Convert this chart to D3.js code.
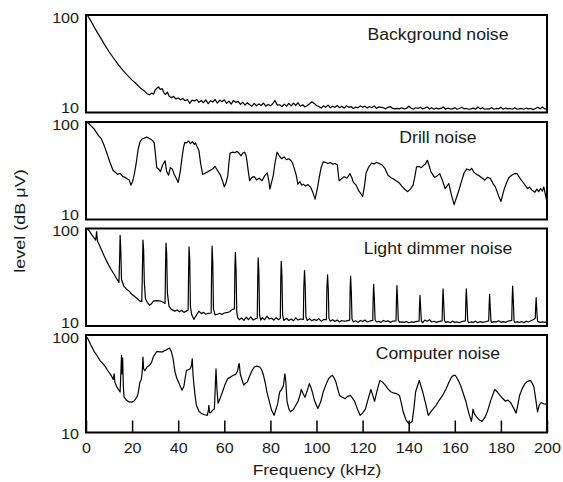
<!DOCTYPE html>
<html><head><meta charset="utf-8">
<script src="https://cdn.jsdelivr.net/npm/d3@7"></script>
<style>
body{margin:0;background:#fff;}
text{font-family:"Liberation Sans",Arial,Helvetica,sans-serif;fill:#1a1a1a;}
</style>
</head><body>
<svg id="c" width="563" height="482"></svg>
<script>
const panelTitles = ["Background noise", "Drill noise", "Light dimmer noise", "Computer noise"];
const xTicks = [0,20,40,60,80,100,120,140,160,180,200];
const yTicks = [10,100];
const xTitle = "Frequency (kHz)";
const yTitle = "level (dB \u03BCV)";

// [frequency kHz, level]
const background = [[0.5,100],[2,88],[4,72],[6,60],[8,50],[10,42],[12,36],[14,31],[16,27],[18,24],[20,21.5],[22,19.5],[24,17.5],[25.5,16.5],[26.5,15.6],[27.5,15.2],[28.5,15.8],[29.3,15.4],[30,17],[30.8,17.8],[31.5,18.3],[32.2,17.2],[33,17.6],[33.8,16],[34.5,15.3],[35.3,16.2],[36,14.8],[37,14.2],[38,14.6],[39,13.8],[40,14.1],[41,13.5],[42,13.9],[43,13.2],[44,13.6],[45,12.4],[46,13.4],[47,13.1],[48,13.6],[49,12.7],[50,13.3],[51,12.6],[52,13.5],[53,12.3],[54,13.2],[55,12.8],[56,13.6],[57,12.5],[58,13.4],[59,12.9],[60,13.5],[61,12.4],[62,13.1],[63,12.2],[64,13.3],[65,12.7],[66,13.0],[67,12.1],[68,12.8],[69,11.9],[70,12.6],[71,12.0],[72,11.6],[73,12.4],[74,11.7],[75,12.2],[76,11.8],[77,12.5],[78,11.6],[79,12.1],[80,11.7],[81,12.3],[82,13.3],[83,11.9],[84,12.0],[85,11.5],[86,12.2],[87,11.6],[88,12.4],[89,11.7],[90,12.5],[91,11.8],[92,12.6],[93,11.6],[94,12.0],[95,11.4],[96,11.8],[97,12.3],[98,12.9],[99,12.4],[100,11.8],[101,11.5],[102,11.1],[103,11.7],[104,11.3],[105,11.9],[106,11.2],[107,11.6],[108,11.3],[109,11.8],[110,11.2],[111,11.6],[112,11.1],[113,11.7],[114,11.3],[115,11.5],[116,11.0],[117,11.4],[118,11.2],[119,11.7],[120,11.3],[121,11.6],[122,11.1],[123,11.5],[124,11.2],[125,11.7],[126,11.0],[127,11.4],[128,11.3],[129,11.2],[130,10.9],[131,11.3],[132,11.5],[133,11.0],[134,10.9],[135,11.0],[136,10.9],[137,11.2],[138,10.9],[139,11.0],[140,11.6],[141,11.1],[142,10.8],[143,11.2],[144,11.0],[145,11.3],[146,10.9],[147,11.1],[148,11.4],[149,10.9],[150,11.2],[151,10.8],[152,11.1],[153,10.9],[154,11.0],[155,11.4],[156,10.8],[157,11.1],[158,10.9],[159,10.9],[160,11.2],[161,10.8],[162,11.0],[163,11.3],[164,10.9],[165,11.0],[166,10.8],[167,10.9],[168,11.1],[169,10.8],[170,11.4],[171,10.9],[172,11.2],[173,10.8],[174,10.9],[175,10.9],[176,11.2],[177,10.8],[178,11.0],[179,10.9],[180,11.3],[181,10.8],[182,11.1],[183,10.9],[184,11.0],[185,10.8],[186,11.2],[187,10.8],[188,10.9],[189,11.0],[190,10.8],[191,11.1],[192,10.9],[193,11.0],[194,10.7],[195,11.0],[196,11.3],[197,10.9],[198,11.4],[199,10.9],[200,10.8]];

const drill = [[0.5,100],[2,92],[3.5,85],[5.5,72],[6.5,68],[7.8,58],[9.3,46],[10.5,38],[11.7,32],[12.7,30.5],[13.7,29],[14.8,29.8],[16,27.5],[17,27],[18,26],[18.7,25.5],[19.5,22.5],[20.2,24.5],[21,29.5],[21.8,38],[22.6,52],[23.4,62],[24.2,67],[25.2,68],[26.3,70],[27.3,68],[28.3,66],[29,64],[29.6,61],[30.2,45],[30.7,34],[31.5,33],[32.3,31],[33.2,36],[34.3,40],[35,31],[35.8,28.5],[36.6,34],[37.4,33],[38.3,29],[39.3,26],[40,24],[40.8,30],[41.6,42],[42.3,55],[42.9,62],[43.7,61],[44.5,64],[45.3,60],[46.2,63],[47,59],[47.5,61],[48.3,55],[49,51],[49.7,38],[50.6,29],[51.8,30],[53,31],[54,32],[55,33],[56,35],[57,32],[58.3,28.5],[59.2,25],[60,21.6],[60.8,24],[61.5,28],[62,38],[62.5,48],[63.5,49],[64.6,48.5],[65.5,50],[66.5,47.5],[67.3,45],[68,48],[68.8,49],[69.5,45],[70,37],[70.5,30],[71,25],[72,27],[73,27.5],[74,25.5],[75.2,26.5],[76.4,25],[77.5,28],[78.6,30],[79.3,25],[79.8,20.5],[80.5,24],[81.2,28],[82,38],[82.9,49],[83.8,45],[84.9,42],[86,44],[87,41],[88,42],[89,40],[89.6,38],[90.4,33],[91.2,28.5],[91.9,23],[92.8,24.5],[93.6,22.5],[94.3,23],[95.3,22],[96.3,22.8],[97.4,21.5],[98.4,19],[99.4,16.2],[100.4,21],[101.2,27],[102,34],[102.9,39],[104,38.5],[105,37.5],[106,38.5],[107,37],[108,37.5],[109,36.5],[109.8,25],[110.8,26],[112,27.5],[113.2,26.5],[114.5,29.5],[115.3,27],[116,24],[117.2,22.5],[118.4,19.5],[119.2,18.5],[120,17.2],[120.8,22],[121.5,30],[122.5,34],[123.9,38],[125,37],[126,38.5],[127.2,37.5],[128.6,36],[129.8,33],[131,28.5],[132.2,27],[133.4,26],[134.5,25],[135.7,24],[137,22],[138,20.7],[139.6,19.3],[140.7,20.5],[141.9,22.5],[142.6,27],[143.4,34.6],[144.5,35],[145.5,34],[146.5,36],[147.3,37],[148.1,40.5],[148.8,36],[149.6,31],[150.4,29],[151.2,27],[152.3,28],[153.5,29.5],[154.7,25],[155.8,20.7],[156.6,22],[157.4,23.4],[158.5,18],[159.7,14.2],[160.8,17],[162,20.7],[163,25],[164,30],[165.2,33],[166.5,32],[167.3,33.5],[168.3,30.5],[169.5,29],[170.7,28],[172,26.5],[173,25.3],[174.2,27],[175.4,26.4],[176.5,23.5],[177.6,21.6],[178.8,18],[180,15.3],[180.8,18],[181.5,20.7],[182.5,24],[183.5,27],[184.7,28.4],[185.8,29.5],[187,29.5],[188.5,26],[190,23.4],[190.8,22],[191.6,20.7],[192.5,21.5],[193.5,20],[194.7,19],[195.6,20.5],[196.4,19.3],[197.2,20.8],[198,19.5],[198.6,21.6],[199.3,18],[200,15]];

const dimmer = [[0.5,100],[1.5,94],[2.5,86],[3.5,80],[4.2,76],[4.6,93],[5,74],[5.5,70],[6.5,62],[7.8,53],[9,46],[10.9,38],[12.5,33],[13.7,29.5],[14.3,28],[14.6,50],[14.8,85],[15.1,60],[15.4,30],[16.4,25.7],[17.5,24],[18.7,22.8],[20,21],[21.8,19.5],[23.4,18],[24.2,17.8],[24.5,40],[24.7,76],[25,60],[25.3,28],[25.8,19],[26.6,17.5],[27.6,16.3],[28.5,17],[29.2,18],[30.5,18.2],[32.4,18],[33.5,17.5],[34.3,17],[34.5,40],[34.7,71],[35,55],[35.3,22],[36,16],[37,14.8],[38.5,14.2],[39.5,14.6],[40.5,14],[41.5,14.5],[42.5,13.8],[43.5,14.2],[44.3,14.5],[44.5,35],[44.7,65],[45,48],[45.3,16],[45.8,13.2],[46.8,11.7],[47.8,12.8],[49,14.2],[50,13.4],[51,13.8],[52,13.2],[53,13.5],[54.3,13.6],[54.5,38],[54.7,66],[55,45],[55.3,15],[56,13],[57,13.2],[58,13.5],[59,13.1],[60,13.6],[61.5,13.8],[62.3,14],[63.5,14.8],[64.4,15],[64.6,40],[64.8,57],[65.1,38],[65.4,14],[65.8,12.2],[66.5,11.6],[67.5,12.1],[68.5,11.4],[69.5,12.3],[70.5,11.6],[71.5,12.4],[72.5,11.5],[73.5,11.9],[74.3,12],[74.5,30],[74.7,50],[75,35],[75.3,13],[75.8,11.5],[76.5,12.2],[77.5,11.6],[78.5,12.6],[79.5,11.8],[80.5,12.0],[81.5,11.5],[82.5,12.2],[83.5,11.6],[84.3,12],[84.5,30],[84.7,46],[85,33],[85.3,13],[85.8,11.4],[87,12],[88,11.4],[89,11.8],[90,11.3],[91,12.1],[92,11.5],[93,11.8],[94.3,11.7],[94.5,25],[94.8,37],[95.1,26],[95.4,12.5],[96,11.4],[97,11.9],[98,11.3],[99,11.7],[100,11.4],[101,11.9],[102,11.2],[103,11.6],[104.3,11.6],[104.5,24],[104.8,33.5],[105.1,24],[105.4,12],[106,11.2],[107,11.6],[108,11.1],[109,11.5],[110,11.0],[111,11.4],[112,11.2],[113,11.3],[114.4,11.5],[114.6,24],[114.8,32.5],[115.1,22],[115.4,11.8],[116,11.0],[117,11.3],[118,10.9],[119,11.4],[120,11.1],[121,11.5],[122,11.0],[123,11.2],[124.4,11.4],[124.6,20],[124.8,26.7],[125.1,19],[125.4,11.6],[126,11.0],[127,11.2],[128,10.9],[129,11.4],[130,11.1],[131,11.3],[132,10.9],[133,11.2],[134.5,11.3],[134.7,19],[134.9,26],[135.2,18],[135.5,11.5],[136,10.9],[137,11.0],[138,10.9],[139,11.1],[140,10.8],[141,11.0],[142,10.9],[143,11.1],[144.5,11.2],[144.7,16],[144.9,20.6],[145.2,15],[145.5,11.3],[146,10.8],[147,11.5],[148,11.2],[149,11.6],[150,11.0],[151,11.2],[152,10.9],[153,11.1],[154.5,11.3],[154.7,18],[154.9,24],[155.2,17],[155.5,11.4],[156,10.9],[157,11.1],[158,10.8],[159,11.2],[160,10.9],[161,11.0],[162,10.8],[163,11.1],[164.6,11.3],[164.8,18],[165,24],[165.3,17],[165.6,11.3],[166,10.8],[167,11.0],[168,10.9],[169,11.2],[170,10.8],[171,11.1],[172,10.9],[173,11.0],[174.7,11.3],[174.9,16],[175.1,21.1],[175.4,15],[175.7,11.2],[176,10.9],[177,11.1],[178,11.0],[179,11.3],[180,10.9],[181,11.1],[182,10.9],[183,11.2],[184.7,11.4],[184.9,19],[185.1,25.7],[185.4,18],[185.7,11.3],[186,10.9],[187,11.0],[188,10.9],[189,11.1],[190,10.8],[191,11.2],[192,11.0],[193,11.3],[194,11.6],[194.9,12],[195.1,16],[195.3,19.5],[195.6,14],[195.9,11.2],[197,10.9],[198,11.0],[199,10.9],[200,11.0]];

const computer = [[0.5,95],[2,80],[3.5,68],[4.7,62],[6,55],[8,48.8],[9.5,43],[10.9,38.6],[11.8,35],[12.2,40],[12.5,33],[13.5,29],[14.8,26],[15.2,45],[15.4,62],[15.6,40],[15.9,58],[16.2,30],[16.5,23.2],[17.5,21.5],[18.7,20.6],[19.8,20.5],[21,21.2],[22,23],[22.6,25],[23.4,33],[24,35],[24.4,42],[24.7,59.5],[25,45],[25.5,43],[26.5,47],[27.6,49],[28.4,52],[29.2,59.5],[30,64],[30.8,68],[32,67],[33.2,67],[34,69],[34.7,70],[35.5,72],[36.2,73.6],[37,68],[37.8,57],[38.6,41.7],[39.4,36],[40.1,33],[41,29.5],[41.7,27.2],[42.5,30],[43,36],[43.6,43.4],[44.4,44],[45.2,45],[45.7,48],[46.1,57],[46.4,40],[46.7,33],[47.3,24],[47.9,19],[49,16.5],[50.2,15.6],[51.5,15.2],[52.6,15],[53.1,17],[53.3,19],[53.6,16],[54.1,16],[55,17],[55.7,17.4],[56.1,30],[56.4,45],[56.8,28],[57.3,20],[58.2,22.5],[59.2,26],[60.3,31],[61.5,35.7],[62.7,37],[63.9,38.6],[65,39.5],[65.8,43],[66.2,49],[66.5,51],[66.9,40],[67.5,36],[68.4,30.6],[69.2,32],[70,33],[71,38],[72,43],[73,47],[74.2,48],[75.4,47],[76.2,44],[77,38.6],[77.8,32],[78.5,26],[79.5,21],[80.5,17],[81.6,15],[82.5,17.5],[83.2,20],[84,26],[84.8,27.5],[85.6,30],[86.3,40],[86.7,33],[87.2,20.9],[88,17.5],[88.7,16.3],[90,17.2],[91,19],[92,20.9],[92.8,24],[93.4,27.6],[94.2,25],[95,23],[96,27],[96.9,31.7],[97.6,29],[98.2,26],[99.2,21],[100.6,17.6],[101.8,20.5],[102.9,26],[104.1,31],[105.3,35.7],[106.1,37.5],[106.9,38.6],[107.7,36],[108.4,33],[109.2,28],[110,24],[111.2,23],[112.4,22.2],[113.5,23.5],[114.7,24],[115.6,22.5],[116.5,21],[117.7,17.5],[118.9,15],[120,15.8],[121.2,17.4],[122.4,22],[123.6,27.6],[124.4,24],[125.2,20.9],[126.3,27],[127.5,34.2],[128.6,33],[129.8,30.6],[131,28],[132.2,26.2],[133.7,25.3],[134.8,25],[136,24],[136.8,20],[137.6,16.3],[138.8,13.5],[140,12.4],[140.8,12.6],[141.5,13],[142.3,18],[143,26],[143.8,30],[144.6,34.2],[145.3,30],[146.1,26],[147.3,20],[148.5,15],[150,16.8],[151.6,18.6],[153,21],[154.7,24],[155.5,26],[156.3,28.3],[157.5,33],[158.6,37.1],[159.4,38.5],[160.2,38.6],[161.3,35],[162.5,30.6],[163.7,25],[164.8,20.9],[166,16],[167.2,13],[167.6,15],[167.9,17.4],[168.5,15.5],[169.5,14.4],[170.6,13.5],[171.8,13],[173,14.2],[174.1,16.3],[175.5,21],[177.3,27.6],[178.5,26],[179.6,24],[180.8,22.3],[182,20.9],[183,21.5],[184.2,20.3],[185.4,18],[186.6,15.8],[187.3,19],[188.1,24],[189.2,28],[190.4,31.7],[191.6,33.5],[192.8,34.2],[193.6,32],[194.3,29.5],[195.1,22],[195.9,16.3],[196.6,19],[197.4,20.3],[198.6,19.7],[199.8,19.5],[200,19.5]];

const series = [background, drill, dimmer, computer];

const svg = d3.select('#c');
const x = d3.scaleLinear().domain([0,200]).range([86,547]);
const tops = [15,122,228.5,335];
const ph = 97.5;
const titleDy = [25,21,25,24];
const lowDy = [-4,-4,-3,2];

function stretch(sel,k){
  sel.each(function(){
    const w = this.getComputedTextLength();
    this.setAttribute('textLength', w*k);
    this.setAttribute('lengthAdjust','spacingAndGlyphs');
  });
}

series.forEach((data,i)=>{
  const top = tops[i], bot = top + ph;
  const y = d3.scaleLog().domain([10,100]).range([bot, top]);
  const g = svg.append('g');
  g.append('path').datum(data)
    .attr('d', d3.line().x(d=>x(d[0])).y(d=>y(Math.max(10, Math.min(100, d[1])))))
    .attr('fill','none').attr('stroke','#000').attr('stroke-width',1.2)
    .attr('stroke-linejoin','round');
  g.append('rect').attr('x',x(0)).attr('y',top)
    .attr('width',x(200)-x(0)).attr('height',ph)
    .attr('fill','none').attr('stroke','#000').attr('stroke-width',2);
  const ya = g.append('g').attr('transform',`translate(${x(0)},0)`)
    .call(d3.axisLeft(y).tickValues(yTicks).tickSize(0).tickPadding(7).tickFormat(d3.format('d')));
  ya.select('.domain').remove();
  ya.selectAll('text').attr('font-size',14)
    .attr('transform', d => `translate(0,${d===100 ? 3 : lowDy[i]})`);
  stretch(ya.selectAll('text'), 1.15);
  const t = g.append('text').attr('x',438).attr('y',top+titleDy[i])
    .attr('text-anchor','middle').attr('font-size',16).text(panelTitles[i]);
  stretch(t, 1.1);
  if(i === series.length-1){
    const xa = g.append('g').attr('transform',`translate(0,${bot})`)
      .call(d3.axisBottom(x).tickValues(xTicks).tickSizeInner(-12).tickSizeOuter(0).tickPadding(11));
    xa.select('.domain').remove();
    xa.selectAll('line').attr('stroke','#000').attr('stroke-width',1.5);
    xa.selectAll('text').attr('font-size',14);
    stretch(xa.selectAll('text'), 1.15);
  }
});

const xt = svg.append('text').attr('x',317).attr('y',475).attr('text-anchor','middle')
  .attr('font-size',15).text(xTitle);
stretch(xt, 1.16);
const yt = svg.append('text').attr('transform','translate(25,221) rotate(-90)')
  .attr('text-anchor','middle').attr('font-size',15).text(yTitle);
stretch(yt, 1.2);
</script>
</body></html>
